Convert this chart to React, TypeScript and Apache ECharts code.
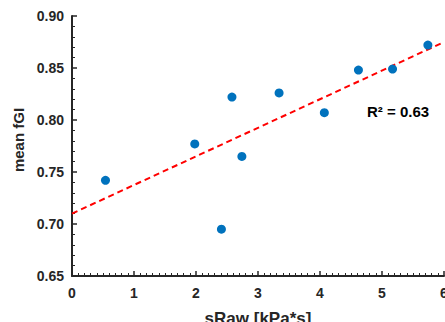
import React, { useEffect, useRef } from "react";
import * as echarts from "echarts";

const sRaw = [0.54, 1.98, 2.41, 2.58, 2.74, 3.34, 4.07, 4.62, 5.17, 5.74];
const meanFGI = [0.742, 0.777, 0.695, 0.822, 0.765, 0.826, 0.807, 0.848, 0.849, 0.872];
const fitX = [0, 6];
const fitY = [0.710, 0.875];
const xTicks = [0, 1, 2, 3, 4, 5, 6];
const yTicks = [0.65, 0.7, 0.75, 0.8, 0.85, 0.9];
const rSquaredText = "R² = 0.63";

export default function App() {
  const ref = useRef<HTMLDivElement>(null);
  useEffect(() => {
    if (!ref.current) return;
    const chart = echarts.init(ref.current, undefined, { renderer: "svg" });
    const axisColor = "#262626";
    const font = "Liberation Sans, Arial, Helvetica, sans-serif";
    chart.setOption({
      animation: false,
      backgroundColor: "#ffffff",
      grid: {
        left: 72,
        right: 1,
        top: 16,
        bottom: 46,
        containLabel: false,
        outerBoundsMode: "none",
      },
      xAxis: {
        type: "value",
        min: xTicks[0],
        max: xTicks[xTicks.length - 1],
        interval: 1,
        name: "sRaw [kPa*s]",
        nameLocation: "middle",
        nameGap: 34,
        nameTextStyle: { color: axisColor, fontWeight: "bold", fontSize: 17, fontFamily: font },
        axisLine: { show: true, lineStyle: { color: axisColor, width: 2 } },
        axisTick: { show: true, inside: true, length: 5, lineStyle: { color: axisColor, width: 1.5 } },
        minorTick: { show: true, splitNumber: 10, length: 3, lineStyle: { color: axisColor, width: 1 } },
        axisLabel: { color: axisColor, fontWeight: "bold", fontSize: 14, fontFamily: font, margin: 10 },
        splitLine: { show: false },
      },
      yAxis: {
        type: "value",
        min: yTicks[0],
        max: yTicks[yTicks.length - 1],
        interval: 0.05,
        name: "mean fGI",
        nameLocation: "middle",
        nameGap: 41,
        nameTextStyle: {
          color: axisColor,
          fontWeight: "bold",
          fontSize: 15,
          fontFamily: font,
          padding: [0, 0, 0, 12],
        },
        axisLine: { show: true, lineStyle: { color: axisColor, width: 2 } },
        axisTick: { show: true, inside: true, length: 5, lineStyle: { color: axisColor, width: 1.5 } },
        minorTick: { show: true, splitNumber: 5, length: 3, lineStyle: { color: axisColor, width: 1 } },
        axisLabel: {
          color: axisColor,
          fontWeight: "bold",
          fontSize: 14,
          fontFamily: font,
          margin: 8,
          formatter: (v: number) => v.toFixed(2),
        },
        splitLine: { show: false },
      },
      series: [
        {
          type: "line",
          data: fitX.map((x, i) => [x, fitY[i]]),
          showSymbol: false,
          symbol: "none",
          lineStyle: { color: "#ff0000", width: 2, type: [6, 4] },
          z: 2,
        },
        {
          type: "scatter",
          data: sRaw.map((x, i) => [x, meanFGI[i]]),
          symbolSize: 9,
          itemStyle: { color: "#0072BD", opacity: 1 },
          z: 3,
        },
      ],
      graphic: [
        {
          type: "text",
          left: 367,
          top: 104,
          style: {
            text: rSquaredText,
            fill: "#000000",
            font: `bold 15px ${font}`,
          },
        },
      ],
    });
    return () => chart.dispose();
  }, []);
  return (
    <div
      ref={ref}
      style={{ position: "absolute", left: 0, top: 0, width: 445, height: 322 }}
    />
  );
}
